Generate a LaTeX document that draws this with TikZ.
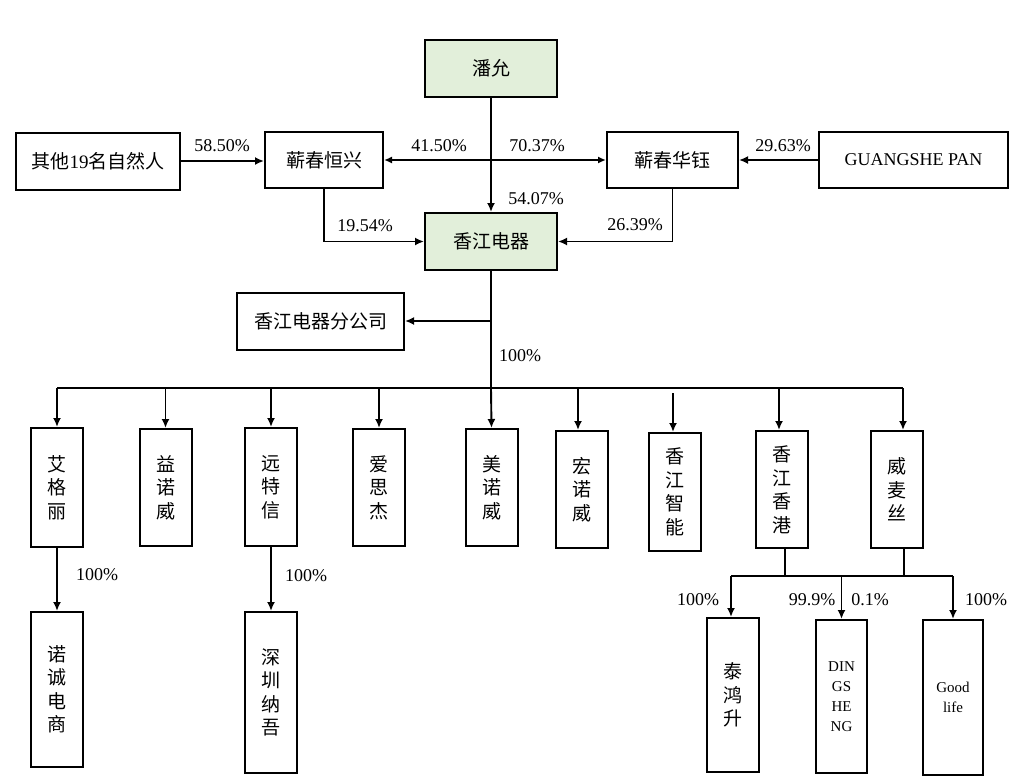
\documentclass[tikz,border=0pt]{standalone}
\usepackage{fontspec}
\setmainfont{Liberation Serif}
\newfontfamily\cjk{Noto Sans CJK SC}
\usetikzlibrary{arrows.meta}
\definecolor{boxgreen}{HTML}{E2EFDA}
\begin{document}
\begin{tikzpicture}[x=1pt,y=-1pt,
  box/.style={draw=black, line width=2pt, inner sep=0pt, align=center,
    font=\cjk\fontsize{19}{23.5}\selectfont},
  gbox/.style={box, fill=boxgreen},
  vbox/.style={box, minimum width=52pt},
  ebox/.style={box, minimum width=52pt, font=\rmfamily\fontsize{15}{20}\selectfont},
  conn/.style={line width=1.9pt},
  arr/.style={conn, -{Latex[length=9pt,width=8pt]}},
  dbl/.style={conn, {Latex[length=8pt,width=7pt]}-{Latex[length=8pt,width=7pt]}},
  pct/.style={font=\rmfamily\fontsize{18}{20}\selectfont, inner sep=0pt},
]
\useasboundingbox (0,0) rectangle (1029,782);

% top level
\node[gbox, minimum width=132pt, minimum height=57pt] (py) at (491,68.5) {潘允};
\node[box, minimum width=164pt, minimum height=57pt] (qt) at (98,161) {其他{\rmfamily\fontsize{19}{23.5}\selectfont 19}名自然人};
\node[box, minimum width=118pt, minimum height=56pt] (hx) at (324,160) {蕲春恒兴};
\node[box, minimum width=131pt, minimum height=56pt] (hy) at (672.5,160) {蕲春华钰};
\node[box, minimum width=189pt, minimum height=56pt, font=\rmfamily\fontsize{18}{20}\selectfont] (gp) at (913.5,160) {GUANGSHE PAN};
\node[gbox, minimum width=132pt, minimum height=57pt] (xj) at (491,241.5) {香江电器};
\node[box, minimum width=167pt, minimum height=57pt] (fg) at (320.5,321) {香江电器分公司};

% second row
\node[vbox, minimum height=119pt] (agl) at (57,487.5) {艾\\格\\丽};
\node[vbox, minimum height=117pt] (yn) at (165.5,487.5) {益\\诺\\威};
\node[vbox, minimum height=118pt] (ytx) at (271,487) {远\\特\\信};
\node[vbox, minimum height=117pt] (asj) at (379,487.5) {爱\\思\\杰};
\node[vbox, minimum height=117pt] (mn) at (491.5,487.5) {美\\诺\\威};
\node[vbox, minimum height=117pt] (hn) at (582,489.5) {宏\\诺\\威};
\node[vbox, minimum height=118pt] (zn) at (675,492) {香\\江\\智\\能};
\node[vbox, minimum height=117pt] (hk) at (781.5,489.5) {香\\江\\香\\港};
\node[vbox, minimum height=117pt] (wms) at (897,489.5) {威\\麦\\丝};

% third row
\node[vbox, minimum height=155pt] (nc) at (57,689.5) {诺\\诚\\电\\商};
\node[vbox, minimum height=161pt] (sz) at (271,692.5) {深\\圳\\纳\\吾};
\node[vbox, minimum height=154pt] (ths) at (733,695) {泰\\鸿\\升};
\node[ebox, minimum width=51pt, minimum height=153pt] (ds) at (841.5,696.5) {DIN\\GS\\HE\\NG};
\node[ebox, minimum width=60pt, minimum height=155pt] (gl) at (953,697.5) {Good\\life};

% connectors top
\draw[arr] (qt.east) -- (qt.east -| hx.west);
\draw[arr] (gp.west) -- (hy.east);
\draw[dbl] (hx.east) -- (hy.west);
\draw[arr] (py.south) -- (xj.north);
\draw[arr] (hx.south) |- (xj.west);
\draw[arr] (hy.south) |- (xj.east);

% bus
\coordinate (bM) at (491,388);
\coordinate (bL) at (57,388);
\coordinate (bR) at (903,388);
\draw[conn] (xj.south) -- (bM);
\draw[arr] (xj.south |- fg.east) -- (fg.east);
\draw[conn] (bL) -- (bR);
\draw[arr] (bL) -- (agl.north);
\draw[arr] (yn.north |- bM) -- (yn.north);
\draw[arr] (ytx.north |- bM) -- (ytx.north);
\draw[arr] (asj.north |- bM) -- (asj.north);
\draw[arr] (bM) -- (mn.north);
\draw[arr] ([xshift=-4pt]hn.north |- bM) -- ([xshift=-4pt]hn.north);
\draw[arr] ([xshift=-2pt,yshift=-5pt]zn.north |- bM) -- ([xshift=-2pt]zn.north);
\draw[arr] ([xshift=-2.5pt]hk.north |- bM) -- ([xshift=-2.5pt]hk.north);
\draw[arr] (bR) -- (bR |- wms.north);

% lower connectors
\draw[arr] (agl.south) -- (nc.north);
\draw[arr] (ytx.south) -- (sz.north);
\coordinate (cL) at (731,576);
\coordinate (cR) at (953,576);
\draw[conn] ([xshift=3.5pt]hk.south) -- ([xshift=3.5pt]hk.south |- cL);
\draw[conn] ([xshift=7pt]wms.south) -- ([xshift=7pt]wms.south |- cL);
\draw[conn] (cL) -- (cR);
\draw[arr] (cL) -- (cL |- ths.north);
\draw[arr] (ds.north |- cL) -- (ds.north);
\draw[arr] (cR) -- (cR |- gl.north);

% labels
\node[pct] (l1) at (222,146) {58.50\%};
\node[pct] (l2) at (439,146) {41.50\%};
\node[pct] (l3) at (537,146) {70.37\%};
\node[pct] (l4) at (783,146) {29.63\%};
\node[pct] (l5) at (536,199) {54.07\%};
\node[pct] (l6) at (365,226) {19.54\%};
\node[pct] (l7) at (635,225) {26.39\%};
\node[pct] (l8) at (520,356) {100\%};
\node[pct] (l9) at (97,575) {100\%};
\node[pct] (l10) at (306,576) {100\%};
\node[pct] (l11) at (698,600) {100\%};
\node[pct] (l12) at (812,600) {99.9\%};
\node[pct] (l13) at (870,600) {0.1\%};
\node[pct] (l14) at (986,600) {100\%};
\end{tikzpicture}
\end{document}
